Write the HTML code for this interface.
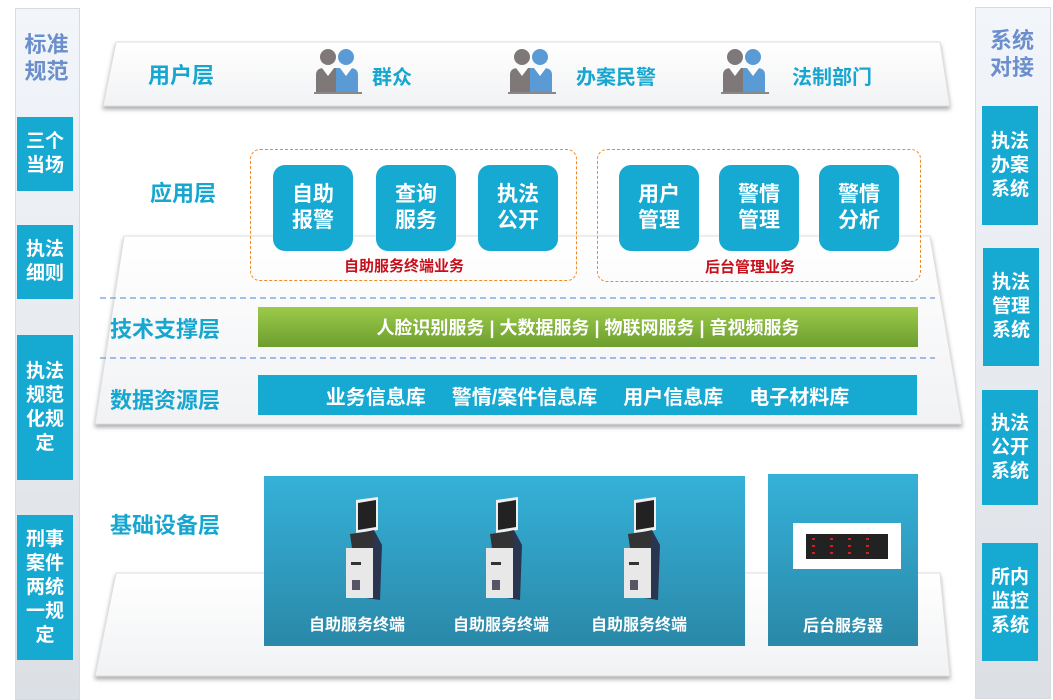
<!DOCTYPE html>
<html><head><meta charset="utf-8"><style>
body{margin:0;width:1053px;height:692px;background:#fff;position:relative;overflow:hidden;font-family:"Liberation Sans","Noto Sans CJK SC",sans-serif;font-weight:bold}
.a{position:absolute}
.col{position:absolute;background:linear-gradient(#f2f6fb,#dcdfe4);border:1px solid #d6dbe2}
.bx{position:absolute;background:#16a9d2;color:#fff;display:flex;align-items:center;justify-content:center;text-align:center;font-size:19px;line-height:24px}
.ttl{position:absolute;color:#6b8fcc;font-size:22px;line-height:27px;text-align:center}
.lay{position:absolute;color:#16a6d0;font-size:22px;white-space:nowrap}
.app{position:absolute;width:80px;height:86px;border-radius:12px;background:#16a9d2;color:#fff;font-size:21px;line-height:26px;display:flex;align-items:center;justify-content:center;text-align:center}
.red{position:absolute;color:#c8101c;font-size:15px;white-space:nowrap}
.dash{position:absolute;border:1.5px dashed #f08a24;border-radius:10px}
.bar{position:absolute;color:#fff;font-size:18px;display:flex;align-items:center;justify-content:center;white-space:nowrap}
.bar span{margin:0 13px}
.ut{position:absolute;color:#16a6d0;font-size:20px;white-space:nowrap}
.kl{position:absolute;color:#fff;font-size:16px;white-space:nowrap}
</style></head><body>
<svg class="a" style="left:0;top:0" width="1053" height="692">
<defs>
<linearGradient id="pg" x1="0" y1="0" x2="0" y2="1"><stop offset="0" stop-color="#ffffff"/><stop offset="1" stop-color="#f1f2f4"/></linearGradient>
<filter id="sh" x="-5%" y="-5%" width="110%" height="120%"><feDropShadow dx="0" dy="3" stdDeviation="2" flood-color="#777" flood-opacity="0.6"/></filter>
</defs>
<polygon points="116,42 940,42 950,106 103,106" fill="url(#pg)" stroke="#ddd" filter="url(#sh)"/>
<polygon points="124,236 930,236 962,424 95,424" fill="url(#pg)" stroke="#ddd" filter="url(#sh)"/>
<polygon points="116,573 940,573 950,676 95,676" fill="url(#pg)" stroke="#ddd" filter="url(#sh)"/>
<line x1="100" y1="298" x2="935" y2="298" stroke="#6f9bd8" stroke-width="1.3" stroke-dasharray="6,4"/>
<line x1="100" y1="358" x2="935" y2="358" stroke="#6f9bd8" stroke-width="1.3" stroke-dasharray="6,4"/>
<g id="p">
<circle cx="328" cy="57" r="8" fill="#7f7878"/><path d="M316 92 V75 Q316 68 324 68 H336 V92Z" fill="#7f7878"/>
<circle cx="346" cy="57" r="8" fill="#5b9bd5"/><path d="M336 92 V68 H350 Q358 68 358 75 V92Z" fill="#5b9bd5"/>
<path d="M322 68 L328 76 L334 68Z M340 68 L346 76 L352 68Z" fill="#fff"/>
<rect x="314" y="92" width="48" height="2" fill="#888"/>
</g>
<use href="#p" x="194"/><use href="#p" x="407"/>
</svg>
<div class="col" style="left:15px;top:8px;width:63px;height:690px"></div>
<div class="ttl" style="left:15px;top:31px;width:63px">标准<br>规范</div>
<div class="bx" style="left:17px;top:117px;width:56px;height:74px">三个<br>当场</div>
<div class="bx" style="left:17px;top:225px;width:56px;height:74px">执法<br>细则</div>
<div class="bx" style="left:17px;top:335px;width:56px;height:145px">执法<br>规范<br>化规<br>定</div>
<div class="bx" style="left:17px;top:515px;width:56px;height:145px">刑事<br>案件<br>两统<br>一规<br>定</div>
<div class="col" style="left:975px;top:7px;width:74px;height:690px"></div>
<div class="ttl" style="left:975px;top:27px;width:74px">系统<br>对接</div>
<div class="bx" style="left:982px;top:106px;width:56px;height:119px">执法<br>办案<br>系统</div>
<div class="bx" style="left:983px;top:248px;width:56px;height:118px">执法<br>管理<br>系统</div>
<div class="bx" style="left:982px;top:390px;width:56px;height:115px">执法<br>公开<br>系统</div>
<div class="bx" style="left:982px;top:543px;width:56px;height:118px">所内<br>监控<br>系统</div>

<div class="lay" style="left:148px;top:58px">用户层</div>
<div class="ut" style="left:372px;top:61px">群众</div>
<div class="ut" style="left:576px;top:61px">办案民警</div>
<div class="ut" style="left:792px;top:61px">法制部门</div>

<div class="lay" style="left:150px;top:176px">应用层</div>
<div class="dash" style="left:250px;top:149px;width:325px;height:130px"></div>
<div class="dash" style="left:597px;top:149px;width:322px;height:131px"></div>
<div class="app" style="left:273px;top:165px">自助<br>报警</div>
<div class="app" style="left:376px;top:165px">查询<br>服务</div>
<div class="app" style="left:478px;top:165px">执法<br>公开</div>
<div class="app" style="left:619px;top:165px">用户<br>管理</div>
<div class="app" style="left:719px;top:165px">警情<br>管理</div>
<div class="app" style="left:819px;top:165px">警情<br>分析</div>
<div class="red" style="left:344px;top:255px">自助服务终端业务</div>
<div class="red" style="left:705px;top:256px">后台管理业务</div>

<div class="lay" style="left:110px;top:312px">技术支撑层</div>
<div class="bar" style="left:258px;top:307px;width:660px;height:40px;background:linear-gradient(#9cca4a,#6d9e2e)">人脸识别服务 | 大数据服务 | 物联网服务 | 音视频服务</div>
<div class="lay" style="left:110px;top:383px">数据资源层</div>
<div class="bar" style="left:258px;top:375px;width:659px;height:40px;background:#16a9d2;font-size:20px"><span>业务信息库</span><span>警情/案件信息库</span><span>用户信息库</span><span>电子材料库</span></div>

<div class="lay" style="left:110px;top:508px">基础设备层</div>
<div class="a" style="left:264px;top:476px;width:481px;height:170px;background:linear-gradient(#35b1d8,#2a88a8)"></div>
<div class="a" style="left:768px;top:474px;width:150px;height:172px;background:linear-gradient(#35b1d8,#2a88a8)"></div>
<svg class="a" style="left:0;top:0" width="1053" height="692">
<g id="k">
<path d="M356 500 L378 497 L378 530 L356 533Z" fill="#eee"/><path d="M358 503 L376 500 L376 527 L358 530Z" fill="#222"/>
<path d="M352 535 L374 530 L382 545 L380 600 L352 596Z" fill="#2a3550"/>
<path d="M350 534 L372 531 L374 546 L352 548Z" fill="#333"/>
<rect x="346" y="548" width="27" height="50" fill="#e8e8e8"/>
<rect x="351" y="562" width="10" height="3" fill="#333"/>
<rect x="352" y="580" width="8" height="10" fill="#556"/>
</g>
<use href="#k" x="140"/><use href="#k" x="278"/>
<rect x="793" y="523" width="108" height="46" fill="#fff"/>
<rect x="806" y="534" width="82" height="25" fill="#222"/>
<g fill="#c22"><rect x="812" y="538" width="3" height="2"/><rect x="830" y="538" width="3" height="2"/><rect x="848" y="538" width="3" height="2"/><rect x="866" y="538" width="3" height="2"/><rect x="812" y="545" width="3" height="2"/><rect x="830" y="545" width="3" height="2"/><rect x="848" y="545" width="3" height="2"/><rect x="866" y="545" width="3" height="2"/><rect x="812" y="552" width="3" height="2"/><rect x="830" y="552" width="3" height="2"/><rect x="848" y="552" width="3" height="2"/><rect x="866" y="552" width="3" height="2"/></g>
</svg>
<div class="kl" style="left:309px;top:611px">自助服务终端</div>
<div class="kl" style="left:453px;top:611px">自助服务终端</div>
<div class="kl" style="left:591px;top:611px">自助服务终端</div>
<div class="kl" style="left:803px;top:612px">后台服务器</div>
</body></html>
